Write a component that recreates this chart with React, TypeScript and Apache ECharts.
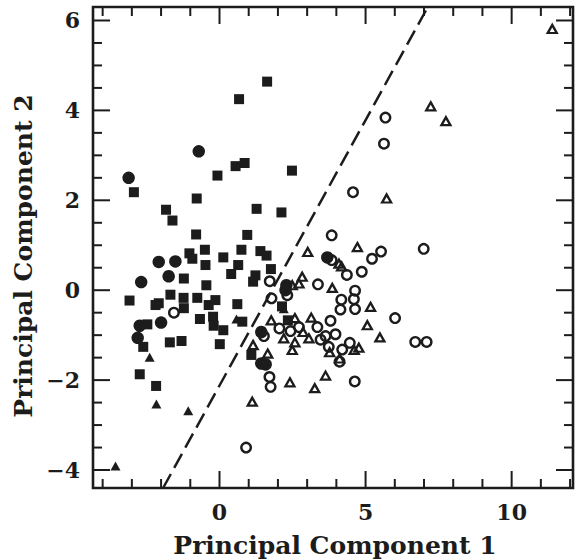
import React, { useEffect, useRef } from "react";
import * as echarts from "echarts";

// ---- data ----
const xRange = [-4.33, 12.1];
const yRange = [-4.4, 6.3];
const xMajorTicks = [0, 5, 10];
const xMinorTicks = [-4, -3, -2, -1, 0, 1, 2, 3, 4, 5, 6, 7, 8, 9, 10, 11, 12];
const yMajorTicks = [-4, -2, 0, 2, 4, 6];
const yMinorTicks = [-4, -3.5, -3, -2.5, -2, -1.5, -1, -0.5, 0, 0.5, 1, 1.5, 2, 2.5, 3, 3.5, 4, 4.5, 5, 5.5, 6];
const xTitle = "Principal Component 1";
const yTitle = "Principal Component 2";

const dividerLine = [[-1.93, -4.4], [7.13, 6.3]];

const filledSquares = [
  [-2.93, 2.18], [1.63, 4.64], [0.67, 4.25], [0.55, 2.76], [0.86, 2.83], [-0.07, 2.55], [2.48, 2.66],
  [-0.78, 2.04], [-1.83, 1.79], [-1.61, 1.55], [1.27, 1.81], [2.12, 1.73], [-0.8, 1.24], [0.95, 1.23],
  [-1.03, 0.82], [-0.93, 0.7], [-0.5, 0.9], [-0.48, 0.56], [0.13, 0.73], [0.75, 0.9], [0.64, 0.56],
  [1.4, 0.87], [1.61, 0.77], [1.76, 0.47], [0.4, 0.36], [1.23, 0.33], [1.15, 0.19], [-1.22, 0.26],
  [-0.45, 0.11], [-3.08, -0.23], [-2.08, -0.29], [-2.19, -0.33], [-1.68, -0.1], [-1.23, -0.17],
  [-0.76, -0.17], [-0.37, -0.33], [-0.14, -0.22], [0.61, -0.31], [-1.22, -0.4], [-2.47, -0.76],
  [-0.67, -0.64], [-0.22, -0.59], [-0.2, -0.79], [0.13, -0.89], [0.78, -0.7], [-2.61, -1.26],
  [-1.7, -1.16], [-1.3, -1.13], [0.01, -1.2], [-2.73, -1.87], [-2.17, -2.13], [1.09, -1.44],
  [2.14, -0.36], [2.34, -0.67],
];

const filledCircles = [
  [-3.11, 2.5], [-0.71, 3.09], [-2.08, 0.63], [-1.51, 0.64], [-1.74, 0.31], [-2.68, 0.18],
  [-2.0, -0.72], [-2.73, -0.79], [-2.8, -1.06], [1.43, -1.63], [1.58, -1.65], [3.69, 0.73],
  [2.29, 0.11], [2.26, 0.0], [1.43, -0.93],
];

const filledTriangles = [
  [0.58, -0.64], [-2.39, -1.49], [-2.16, -2.53], [-1.07, -2.68], [-3.56, -3.91], [2.2, -0.41],
];

const openCircles = [
  [5.68, 3.84], [5.63, 3.26], [4.57, 2.18], [3.84, 1.22], [5.53, 0.86], [5.22, 0.7], [6.99, 0.92],
  [3.84, 0.67], [4.36, 0.34], [4.87, 0.41], [3.37, 0.13], [4.64, -0.01], [4.17, -0.21], [4.6, -0.2],
  [4.14, -0.43], [4.64, -0.42], [6.01, -0.62], [3.8, -0.68], [2.05, -0.85], [2.43, -0.91],
  [2.72, -0.82], [3.35, -0.82], [3.46, -1.1], [3.63, -1.02], [3.97, -0.98], [3.74, -1.26],
  [4.2, -1.32], [4.46, -1.17], [4.11, -1.59], [6.7, -1.15], [7.09, -1.15], [4.63, -2.03],
  [1.71, -1.93], [1.75, -2.15], [0.91, -3.5], [1.72, 0.2], [1.78, -0.18], [1.52, -1.02],
  [-1.56, -0.5], [2.32, -0.11],
];

const openTriangles = [
  [11.39, 5.81], [7.23, 4.09], [7.75, 3.76], [5.72, 2.04], [4.72, 0.96], [3.02, 0.85], [4.09, 0.59],
  [4.18, 0.53], [3.86, 0.05], [2.83, 0.3], [2.72, 0.15], [2.49, 0.11], [5.17, -0.37], [5.06, -0.78],
  [5.49, -1.05], [1.77, -0.67], [2.58, -0.62], [3.14, -0.61], [2.2, -1.07], [2.58, -1.16],
  [2.49, -1.33], [3.06, -1.07], [3.77, -1.38], [4.77, -1.28], [4.61, -1.33], [4.11, -1.52],
  [1.65, -1.41], [2.41, -2.05], [3.63, -1.9], [3.26, -2.18], [1.15, -1.22], [1.12, -2.48],
  [2.86, -0.93],
];

const INK = "#1c1c1c";
const FONT = "DejaVu Serif";
const MAJOR_LEN = 17;
const MINOR_LEN = 9;

const fmt = (v: number) => (v < 0 ? "\u2212" + Math.abs(v) : String(v));

export default function App() {
  const ref = useRef<HTMLDivElement>(null);
  useEffect(() => {
    if (!ref.current) return;
    const chart = echarts.init(ref.current, null, { renderer: "svg" });

    const scatter = (data: number[][], symbol: string, size: any, filled: boolean, bw = 0) => ({
      type: "scatter",
      data,
      symbol,
      symbolSize: size,
      silent: true,
      itemStyle: filled
        ? { color: INK, opacity: 1 }
        : { color: "rgba(255,255,255,0)", borderColor: INK, borderWidth: bw, opacity: 1 },
    });

    // ticks on all four sides, placed through the axes' scales
    const xTickSeries = {
      type: "custom",
      silent: true,
      clip: false,
      data: xMinorTicks.map((v) => [v, yRange[0]]),
      renderItem: (params: any, api: any) => {
        const v = api.value(0);
        const len = xMajorTicks.includes(v) ? MAJOR_LEN : MINOR_LEN;
        const b = api.coord([v, yRange[0]]);
        const t = api.coord([v, yRange[1]]);
        const st = { stroke: INK, lineWidth: 2 };
        return {
          type: "group",
          children: [
            { type: "line", shape: { x1: b[0], y1: b[1], x2: b[0], y2: b[1] - len }, style: st },
            { type: "line", shape: { x1: t[0], y1: t[1], x2: t[0], y2: t[1] + len }, style: st },
          ],
        };
      },
    };
    const yTickSeries = {
      type: "custom",
      silent: true,
      clip: false,
      data: yMinorTicks.map((v) => [xRange[0], v]),
      renderItem: (params: any, api: any) => {
        const v = api.value(1);
        const len = yMajorTicks.includes(v) ? MAJOR_LEN : MINOR_LEN;
        const l = api.coord([xRange[0], v]);
        const r = api.coord([xRange[1], v]);
        const st = { stroke: INK, lineWidth: 2 };
        return {
          type: "group",
          children: [
            { type: "line", shape: { x1: l[0], y1: l[1], x2: l[0] + len, y2: l[1] }, style: st },
            { type: "line", shape: { x1: r[0], y1: r[1], x2: r[0] - len, y2: r[1] }, style: st },
          ],
        };
      },
    };

    const labelStyle = {
      color: INK,
      fontFamily: FONT,
      fontWeight: "bold",
      fontSize: 22,
      margin: 13,
      formatter: (v: number) => fmt(v),
    };

    chart.setOption({
      animation: false,
      backgroundColor: "#ffffff",
      grid: {
        left: 93,
        right: 7,
        top: 7,
        bottom: 71,
        show: true,
        borderColor: INK,
        borderWidth: 2.6,
        backgroundColor: "rgba(0,0,0,0)",
      },
      xAxis: {
        type: "value",
        min: xRange[0],
        max: xRange[1],
        splitLine: { show: false },
        axisLine: { show: false },
        axisTick: { show: false },
        axisLabel: { ...labelStyle, customValues: xMajorTicks },
      },
      yAxis: {
        type: "value",
        min: yRange[0],
        max: yRange[1],
        splitLine: { show: false },
        axisLine: { show: false },
        axisTick: { show: false },
        axisLabel: { ...labelStyle, customValues: yMajorTicks },
      },
      graphic: [
        {
          type: "text",
          x: 335,
          y: 545,
          silent: true,
          style: {
            text: xTitle,
            fill: INK,
            font: `bold 25px "${FONT}"`,
            textAlign: "center",
            textVerticalAlign: "middle",
          },
        },
        {
          type: "text",
          x: 23,
          y: 256,
          rotation: Math.PI / 2,
          silent: true,
          style: {
            text: yTitle,
            fill: INK,
            font: `bold 25px "${FONT}"`,
            textAlign: "center",
            textVerticalAlign: "middle",
          },
        },
      ],
      series: [
        xTickSeries,
        yTickSeries,
        {
          type: "line",
          data: dividerLine,
          showSymbol: false,
          symbol: "none",
          silent: true,
          lineStyle: { color: INK, width: 2.5, type: [16, 7] },
        },
        scatter(filledSquares, "rect", 10, true),
        scatter(filledCircles, "circle", 12.5, true),
        scatter(filledTriangles, "triangle", [10, 9], true),
        scatter(openCircles, "circle", 9.5, false, 2.4),
        scatter(openTriangles, "triangle", [9, 8], false, 2.3),
      ],
    });
    return () => chart.dispose();
  }, []);
  return (
    <div
      ref={ref}
      style={{ position: "fixed", left: 0, top: 0, width: 580, height: 559, background: "#fff" }}
    />
  );
}
